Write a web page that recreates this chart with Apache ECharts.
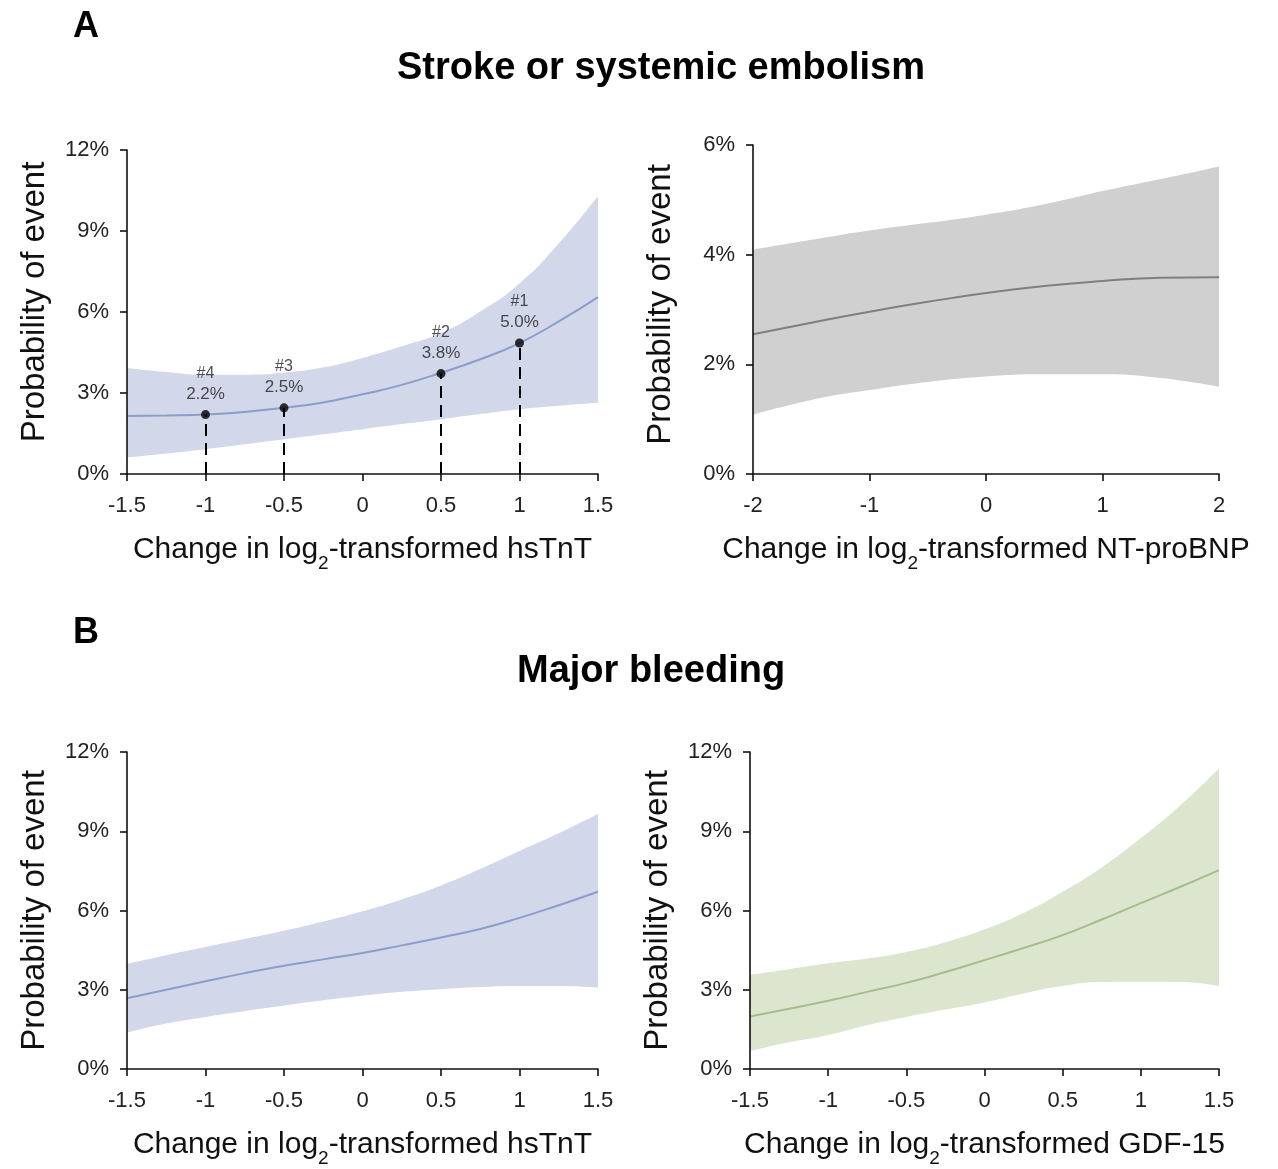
<!DOCTYPE html>
<html><head><meta charset="utf-8">
<script src="https://cdn.jsdelivr.net/npm/echarts@6/dist/echarts.min.js"></script>
<style>html,body{margin:0;padding:0;background:#fff}#c{width:1278px;height:1169px}</style>
</head><body><div id="c"></div>
<script>
// ---- data ----
const xHalf = [-1.5,-1.25,-1,-0.75,-0.5,-0.25,0,0.25,0.5,0.75,1,1.25,1.5];
const xBNP = [-2,-1.5,-1,-0.5,0,0.5,1,1.5,2];

const strokeTnT_mean  = [2.15,2.17,2.2,2.3,2.45,2.65,2.95,3.3,3.75,4.25,4.85,5.65,6.55];
const strokeTnT_upper = [3.93,3.78,3.68,3.68,3.75,3.95,4.3,4.73,5.22,6.02,7.06,8.54,10.3];
const strokeTnT_lower = [0.61,0.76,0.92,1.1,1.29,1.47,1.66,1.85,2.03,2.22,2.4,2.53,2.64];

const strokeBNP_mean  = [2.55,2.76,2.96,3.14,3.30,3.43,3.52,3.58,3.59];
const strokeBNP_upper = [4.09,4.27,4.44,4.58,4.73,4.92,5.16,5.38,5.61];
const strokeBNP_lower = [1.08,1.35,1.53,1.68,1.78,1.82,1.82,1.75,1.59];

const bleedTnT_mean  = [2.68,3.0,3.32,3.63,3.91,4.15,4.39,4.68,4.98,5.3,5.72,6.2,6.71];
const bleedTnT_upper = [3.98,4.31,4.62,4.92,5.23,5.58,5.97,6.42,6.95,7.57,8.25,8.92,9.66];
const bleedTnT_lower = [1.38,1.72,1.97,2.19,2.4,2.6,2.77,2.92,3.02,3.1,3.14,3.14,3.08];

const bleedGDF_mean  = [1.99,2.28,2.58,2.92,3.26,3.67,4.12,4.58,5.07,5.66,6.28,6.89,7.53];
const bleedGDF_upper = [3.57,3.78,4.0,4.18,4.43,4.8,5.29,5.91,6.71,7.63,8.74,9.97,11.38];
const bleedGDF_lower = [0.68,1.01,1.29,1.66,1.97,2.25,2.52,2.86,3.14,3.29,3.3,3.29,3.14];

const pointX = [-1, -0.5, 0.5, 1];
const pointY = [2.2, 2.45, 3.72, 4.85];
const pointIds = ['#4', '#3', '#2', '#1'];
const pointTexts = ['2.2%', '2.5%', '3.8%', '5.0%'];

const titleA = 'Stroke or systemic embolism';
const titleB = 'Major bleeding';
const yTitle = 'Probability of event';
const xNames = ['hsTnT', 'NT-proBNP', 'hsTnT', 'GDF-15'];

// ---- build ----
const FONT = 'Liberation Sans, Arial, sans-serif';
const grids = [
  {left:127, top:150, width:471, height:324},
  {left:753, top:145, width:466, height:329},
  {left:127, top:752, width:471, height:324},
  {left:750, top:752, width:469, height:324}
];
const yNamePad = [[0,0,0,20],[0,0,0,10],[0,0,0,0],[0,0,0,0]];
const xCfg = [[-1.5,1.5,0.5],[-2,2,1],[-1.5,1.5,0.5],[-1.5,1.5,0.5]];
const yCfg = [[0,12,3],[0,6,2],[0,12,3],[0,12,3]];
const colors = [
  {band:'#d2d7ea', line:'#8c9ccb'},
  {band:'#d0d0d0', line:'#7f7f7f'},
  {band:'#d2d7ea', line:'#8c9ccb'},
  {band:'#dce6cf', line:'#a6bd89'}
];
const panels = [
  [xHalf, strokeTnT_mean, strokeTnT_upper, strokeTnT_lower],
  [xBNP, strokeBNP_mean, strokeBNP_upper, strokeBNP_lower],
  [xHalf, bleedTnT_mean, bleedTnT_upper, bleedTnT_lower],
  [xHalf, bleedGDF_mean, bleedGDF_upper, bleedGDF_lower]
];
const fmtX = v => (v === 0 ? '0' : String(v));

const xAxis = grids.map((g, i) => ({
  type:'value', gridIndex:i, min:xCfg[i][0], max:xCfg[i][1], interval:xCfg[i][2], z:10,
  splitLine:{show:false},
  axisLine:{onZero:false, lineStyle:{color:'#111', width:1.6}},
  axisTick:{show:true, inside:false, length:7, lineStyle:{color:'#111', width:1.6}},
  axisLabel:{color:'#222', fontSize:22, fontFamily:FONT, margin:21, formatter:fmtX},
  name:'{a|Change in log}{s|2}{a|-transformed ' + xNames[i] + '}',
  nameLocation:'middle', nameGap:55,
  nameTextStyle:{fontFamily:FONT, rich:{
    a:{fontSize:30, fontFamily:FONT, color:'#111', lineHeight:36, verticalAlign:'bottom'},
    s:{fontSize:19, fontFamily:FONT, color:'#111', lineHeight:19, verticalAlign:'bottom', padding:[0,0,-8,0]}
  }}
}));
const yAxis = grids.map((g, i) => ({
  type:'value', gridIndex:i, min:yCfg[i][0], max:yCfg[i][1], interval:yCfg[i][2], z:10,
  splitLine:{show:false},
  axisLine:{show:true, onZero:false, lineStyle:{color:'#111', width:1.6}},
  axisTick:{show:true, length:7, lineStyle:{color:'#111', width:1.6}},
  axisLabel:{color:'#222', fontSize:22, fontFamily:FONT, margin:18, formatter:'{value}%'},
  name:yTitle, nameLocation:'middle', nameGap:76, nameRotate:90,
  nameTextStyle:{fontSize:33, fontFamily:FONT, color:'#111', padding:yNamePad[i]}
}));

const series = [];
panels.forEach((p, i) => {
  const [xs, mean, up, lo] = p;
  // upper bound filled down to 0 with band colour
  series.push({
    type:'line', xAxisIndex:i, yAxisIndex:i, smooth:true, symbol:'none', silent:true,
    lineStyle:{opacity:0}, areaStyle:{color:colors[i].band, opacity:1, origin:'start'},
    data: xs.map((x, k) => [x, up[k]]), z:1
  });
  // lower bound filled down to 0 in white (leaves the confidence band)
  series.push({
    type:'line', xAxisIndex:i, yAxisIndex:i, smooth:true, symbol:'none', silent:true,
    lineStyle:{opacity:0}, areaStyle:{color:'#ffffff', opacity:1, origin:'start'},
    data: xs.map((x, k) => [x, lo[k]]), z:1
  });
  series.push({
    type:'line', xAxisIndex:i, yAxisIndex:i, smooth:true, symbol:'none',
    lineStyle:{color:colors[i].line, width:2}, data: xs.map((x, k) => [x, mean[k]]), z:2
  });
});
series.push({
  type:'scatter', xAxisIndex:0, yAxisIndex:0, symbolSize:9, z:5,
  itemStyle:{color:'#000'},
  data: pointX.map((x, k) => ({value:[x, pointY[k]], name:pointIds[k]})),
  label:{show:true, position:'top', distance:6, fontFamily:FONT, color:'#222',
    formatter: p => '{i|' + pointIds[p.dataIndex] + '}\n{v|' + pointTexts[p.dataIndex] + '}',
    rich:{i:{fontSize:16, fontFamily:FONT, color:'#222', lineHeight:21, align:'center'},
          v:{fontSize:17, fontFamily:FONT, color:'#222', lineHeight:20, align:'center'}}},
  markLine:{silent:true, symbol:['none','none'], label:{show:false}, z:5,
    lineStyle:{color:'#000', width:2, type:[12,7]},
    data: pointX.map((x, k) => [{coord:[x, 0]}, {coord:[x, pointY[k]]}])}
});

const option = {
  animation:false,
  backgroundColor:'#fff',
  title:[
    {text:'A', left:68, top:4, textStyle:{fontSize:36, fontWeight:'bold', fontFamily:FONT, color:'#000'}},
    {text:titleA, left:392, top:45, textStyle:{fontSize:38, fontWeight:'bold', fontFamily:FONT, color:'#000'}},
    {text:'B', left:68, top:610, textStyle:{fontSize:36, fontWeight:'bold', fontFamily:FONT, color:'#000'}},
    {text:titleB, left:512, top:648, textStyle:{fontSize:38, fontWeight:'bold', fontFamily:FONT, color:'#000'}}
  ],
  grid: grids.map(g => Object.assign({containLabel:false}, g)),
  xAxis, yAxis, series
};
const chart = echarts.init(document.getElementById('c'), null, {renderer:'canvas'});
chart.setOption(option);
</script></body></html>
